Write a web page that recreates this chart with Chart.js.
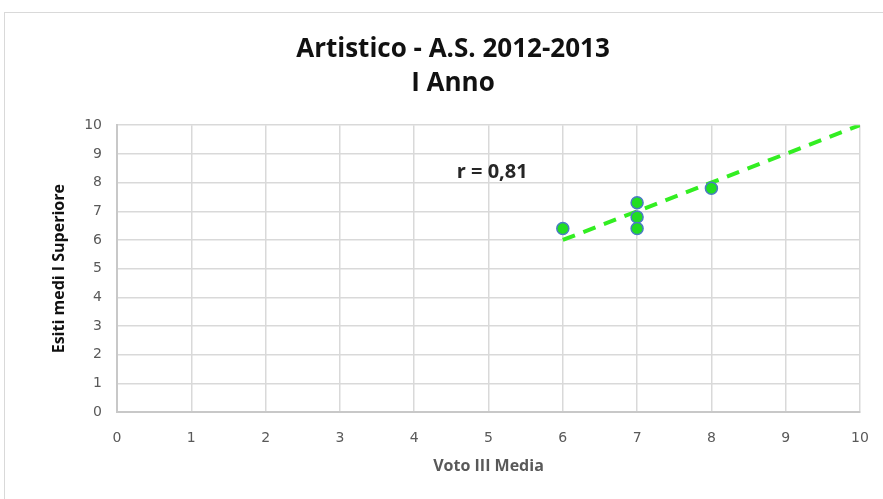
<!DOCTYPE html>
<html lang="it">
<head>
<meta charset="UTF-8">
<title>Artistico - A.S. 2012-2013</title>
<script src="https://cdn.jsdelivr.net/npm/chart.js"></script>
<style>
    html, body { margin: 0; padding: 0; background: #fff; }
    #wrap { position: relative; width: 883px; height: 499px; overflow: hidden; }
    #frame { position: absolute; left: 4px; top: 12px; width: 900px; height: 500px; border: 1px solid #d9d9d9; box-sizing: border-box; }
    canvas { position: absolute; left: 0; top: 0; }
</style>
</head>
<body>
<div id="wrap">
    <div id="frame"></div>
    <canvas id="scatter" width="883" height="499"></canvas>
</div>
<script>
// valori
var votoMedia = [6, 7, 7, 7, 8];
var esitiSuperiore = [6.4, 7.3, 6.8, 6.4, 7.8];
var trendX = [6, 10];
var trendY = [6, 10];
var rLabel = 'r = 0,81';
var axisTicks = [0, 1, 2, 3, 4, 5, 6, 7, 8, 9, 10];

var points = votoMedia.map((v, i) => ({ x: v, y: esitiSuperiore[i] }));
var trend = trendX.map((v, i) => ({ x: v, y: trendY[i] }));

// scrive il coefficiente r sul grafico
var rPlugin = {
    id: 'rPlugin',
    afterDatasetsDraw: function (chart) {
        var ctx = chart.ctx;
        var xs = chart.scales.x, ys = chart.scales.y;
        ctx.save();
        ctx.font = 'bold 20px "Open Sans", sans-serif';
        ctx.fillStyle = '#262626';
        ctx.textAlign = 'center';
        ctx.textBaseline = 'middle';
        ctx.fillText(rLabel, xs.getPixelForValue(5.05), ys.getPixelForValue(8.36));
        ctx.restore();
    }
};

var ctx = document.getElementById('scatter').getContext('2d');
var chart = new Chart(ctx, {
    type: 'scatter',
    data: {
        datasets: [{
            label: 'Esiti',
            data: points,
            backgroundColor: '#22dd22',
            borderColor: '#4a7bc4',
            borderWidth: 1.5,
            pointRadius: 6,
            order: 1
        }, {
            label: 'Tendenza',
            type: 'line',
            data: trend,
            borderColor: '#33ee22',
            borderWidth: 4,
            borderDash: [13, 9],
            pointRadius: 0,
            fill: false,
            order: 2
        }]
    },
    options: {
        responsive: false,
        animation: false,
        layout: { padding: { left: 46, right: 23, top: 10, bottom: 25 } },
        plugins: {
            legend: { display: false },
            tooltip: { enabled: false },
            title: {
                display: true,
                text: ['Artistico - A.S. 2012-2013', 'I Anno'],
                color: '#111',
                font: { family: '"Open Sans", sans-serif', size: 26, weight: 'bold', lineHeight: 1.33 },
                padding: { top: 22, bottom: 24 }
            }
        },
        scales: {
            x: {
                type: 'linear',
                min: 0,
                max: 10,
                afterBuildTicks: function (axis) { axis.ticks = axisTicks.map(v => ({ value: v })); },
                afterFit: function (axis) { axis.paddingRight = 0; },
                grid: { color: '#d9d9d9', lineWidth: 1.5, drawTicks: false },
                border: { color: '#c8c8c8', width: 2 },
                ticks: { color: '#595959', padding: 18, font: { family: '"DejaVu Sans", sans-serif', size: 14 } },
                title: {
                    display: true,
                    text: 'Voto III Media',
                    color: '#595959',
                    font: { family: '"Open Sans", sans-serif', size: 16, weight: 'bold', lineHeight: 1 },
                    padding: { top: -7, bottom: 0 }
                }
            },
            y: {
                type: 'linear',
                min: 0,
                max: 10,
                afterBuildTicks: function (axis) { axis.ticks = axisTicks.map(v => ({ value: v })); },
                grid: { color: '#d9d9d9', lineWidth: 1.5, drawTicks: false },
                border: { color: '#c8c8c8', width: 2 },
                ticks: { color: '#595959', padding: 15, font: { family: '"DejaVu Sans", sans-serif', size: 14 } },
                title: {
                    display: true,
                    text: 'Esiti medi I Superiore',
                    color: '#111',
                    font: { family: '"Open Sans", sans-serif', size: 16, weight: 'bold' },
                    padding: { bottom: 0 }
                }
            }
        }
    },
    plugins: [rPlugin]
});
</script>
</body>
</html>
